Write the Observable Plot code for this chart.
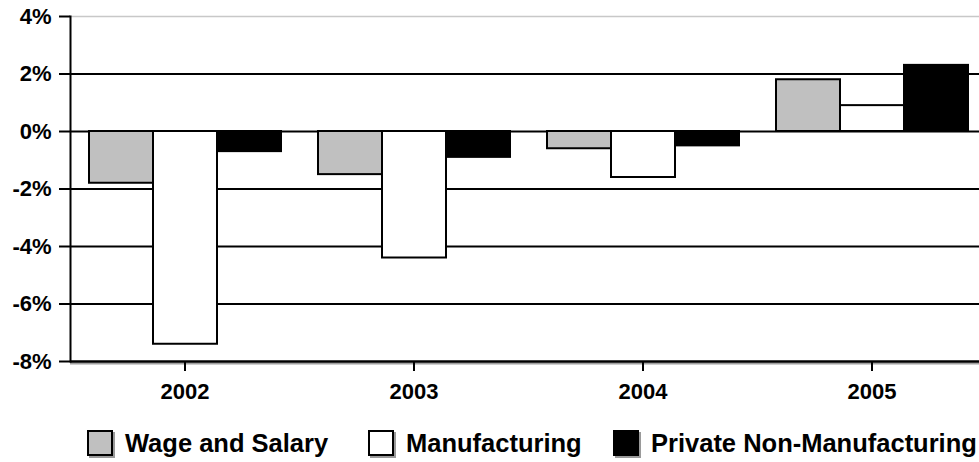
<!DOCTYPE html>
<html>
<head>
<meta charset="utf-8">
<script src="https://cdn.jsdelivr.net/npm/d3@7"></script>
<script src="https://cdn.jsdelivr.net/npm/@observablehq/plot@0.6"></script>
<style>
  body { margin: 0; background: #fff; font-family: "Liberation Sans", Arial, sans-serif; }
  #chart svg { display: block; }
  #legend { position: relative; width: 979px; height: 42px; }
  .item { position: absolute; top: 10px; display: flex; align-items: center; font-weight: bold; font-size: 25.5px; color: #000; white-space: nowrap; line-height: 26px; }
  .sw { width: 22px; height: 22px; border: 2px solid #000; box-shadow: 2px 2px 0 #9a9a9a; margin-right: 12px; }
</style>
</head>
<body>
<div id="chart"></div>
<div id="legend"></div>
<script>
// Annual employment change by sector, percent
const years = ["2002", "2003", "2004", "2005"];
const series = ["Wage and Salary", "Manufacturing", "Private Non-Manufacturing"];
const wageSalary = [-1.8, -1.5, -0.6, 1.8];
const manufacturing = [-7.4, -4.4, -1.6, 0.9];
const privateNonMfg = [-0.7, -0.9, -0.5, 2.3];
const yTicks = [-8, -6, -4, -2, 0, 2, 4];
const seriesColors = ["#c0c0c0", "#ffffff", "#000000"];

const valuesBySeries = [wageSalary, manufacturing, privateNonMfg];
const data = years.flatMap((year, i) =>
  series.map((s, j) => ({ year, series: s, value: valuesBySeries[j][i] }))
);

const innerGrid = yTicks.filter(t => t > -8 && t < 4);

const chart = Plot.plot({
  width: 979,
  height: 420,
  marginTop: 16,
  marginBottom: 59,
  marginLeft: 70,
  marginRight: -7,
  style: { fontFamily: '"Liberation Sans", Arial, sans-serif', color: "#000", background: "#fff" },
  fx: { domain: years, padding: 0 },
  x: { domain: series, paddingInner: 0, paddingOuter: 0.27, axis: null },
  y: { domain: [-8, 4] },
  color: { domain: series, range: seriesColors },
  marks: [
    Plot.ruleY([4], { stroke: "#c8c8c8", strokeWidth: 1.5 }),
    Plot.ruleY(innerGrid, { stroke: "#000", strokeWidth: 2 }),
    Plot.barY(data, { fx: "year", x: "series", y: "value", fill: "series", stroke: "#000", strokeWidth: 2 }),
    Plot.ruleY([-8], { stroke: "#a0a0a0", strokeWidth: 2, dy: 2 }),
    Plot.ruleY([-8], { stroke: "#000", strokeWidth: 2.5 }),
    Plot.frame({ anchor: "left", facetAnchor: "left", stroke: "#000", strokeWidth: 2 }),
    Plot.axisY({
      ticks: yTicks, tickFormat: d => `${d}%`, tickSize: 11, tickPadding: 8,
      fontSize: 22, fontWeight: "bold", strokeWidth: 2, label: null
    }),
    Plot.axisFx({
      anchor: "bottom", tickSize: 10, tickPadding: 12,
      fontSize: 22, fontWeight: "bold", strokeWidth: 2, label: null
    })
  ]
});
document.getElementById("chart").appendChild(chart);

// Legend row beneath the chart
const legend = document.getElementById("legend");
const legendLeft = [87, 368, 613];
series.forEach((s, i) => {
  const item = document.createElement("div");
  item.className = "item";
  item.style.left = legendLeft[i] + "px";
  const sw = document.createElement("span");
  sw.className = "sw";
  sw.style.background = seriesColors[i];
  const label = document.createElement("span");
  label.textContent = s;
  item.append(sw, label);
  legend.appendChild(item);
});
</script>
</body>
</html>
